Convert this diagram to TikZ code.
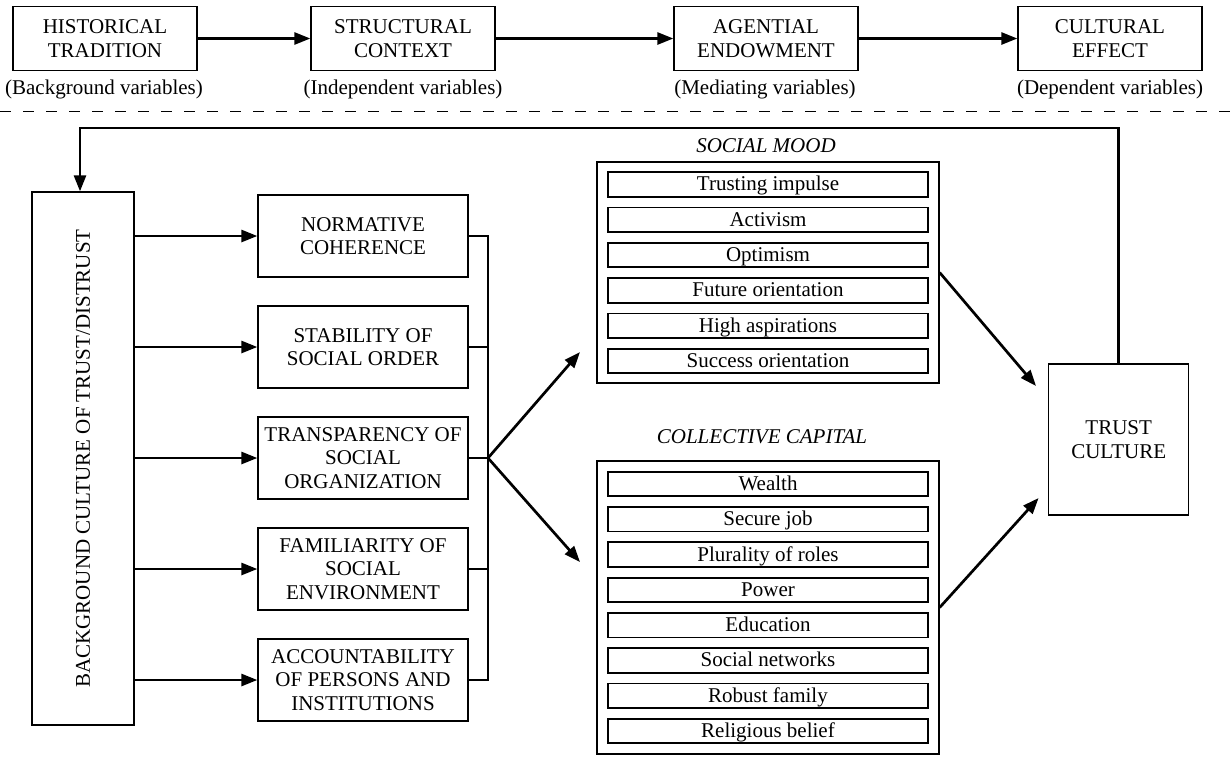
\documentclass[tikz,border=0pt]{standalone}
\usepackage{fontspec}
\setmainfont{Liberation Serif}
\usetikzlibrary{arrows.meta}
\begin{document}
\begin{tikzpicture}[x=0.5pt,y=-0.5pt,
  font=\fontsize{10.5}{11.85}\selectfont,
  box/.style={draw, line width=0.65pt, align=center, inner sep=0pt},
  topbox/.style={box, minimum width=92pt, minimum height=31.75pt},
  midbox/.style={box, minimum width=105pt, minimum height=41pt},
  itembox/.style={box, line width=0.9pt, minimum width=160pt, minimum height=12.25pt,
    text height=7.5pt, text depth=1.1pt},
  groupbox/.style={box, minimum width=171pt},
  grouptitle/.style={font=\fontsize{10.5}{11.85}\selectfont\itshape},
  conn/.style={line width=1.35pt},
  arr/.style={conn, -{Triangle[length=8pt,width=6pt]}},
]
\useasboundingbox (0,0) rectangle (1230,756);

% --- causal chain of variable types ---
\node[topbox] (ht) at (105,38.5) {HISTORICAL\\TRADITION};
\node[topbox] (sc) at (403,38.5) {STRUCTURAL\\CONTEXT};
\node[topbox] (ae) at (766,38.5) {AGENTIAL\\ENDOWMENT};
\node[topbox] (ce) at (1110,38.5) {CULTURAL\\EFFECT};
\node (l1) at (104,89) {(Background variables)};
\node (l2) at (403,89) {(Independent variables)};
\node (l3) at (765,89) {(Mediating variables)};
\node (l4) at (1110,89) {(Dependent variables)};
\draw[arr] (ht) -- (sc);
\draw[arr] (sc) -- (ae);
\draw[arr] (ae) -- (ce);

% separator
\coordinate (dl) at (0,111.7);
\coordinate (dr) at (1230,111.7);
\draw[line width=0.6pt, dash pattern=on 5.5pt off 6pt] (dl) -- (dr);

% --- background culture ---
\node[box, minimum width=51pt, minimum height=266.5pt] (bg) at (83,458.5) {};
\node[rotate=90] (bgt) at (bg.center) {BACKGROUND CULTURE OF TRUST/DISTRUST};

% --- structural context ---
\node[midbox] (m1) at (363,236) {NORMATIVE\\COHERENCE};
\node[midbox] (m2) at (363,347) {STABILITY OF\\SOCIAL ORDER};
\node[midbox] (m3) at (363,458) {TRANSPARENCY OF\\SOCIAL\\ORGANIZATION};
\node[midbox] (m4) at (363,569) {FAMILIARITY OF\\SOCIAL\\ENVIRONMENT};
\node[midbox] (m5) at (363,680) {ACCOUNTABILITY\\OF PERSONS AND\\INSTITUTIONS};
\foreach \m in {m1,m2,m3,m4,m5} {
  \draw[arr] (bg.east |- \m) -- (\m.west);
}

% joining bracket
\coordinate (br) at (488,458);
\foreach \m in {m1,m2,m3,m4,m5} {
  \draw[conn] (\m.east) -| (br);
}
\coordinate (tu) at (580,352);
\coordinate (td) at (580,562);
\draw[arr] (br) -- (tu);
\draw[arr] (br) -- (td);

% --- social mood ---
\node[grouptitle] (smt) at (766,146) {SOCIAL MOOD};
\node[groupbox, minimum height=110.5pt] (sm) at (768,272.5) {};
\foreach \t [count=\i from 0] in {Trusting impulse, Activism, Optimism,
    Future orientation, High aspirations, Success orientation} {
  \node[itembox] (sm\i) at (768,184.5+35.3*\i) {\t};
}

% --- collective capital ---
\node[grouptitle] (cct) at (762,437) {COLLECTIVE CAPITAL};
\node[groupbox, minimum height=146.5pt] (cc) at (768,607.5) {};
\foreach \t [count=\i from 0] in {Wealth, Secure job, Plurality of roles, Power,
    Education, Social networks, Robust family, Religious belief} {
  \node[itembox] (cc\i) at (768,484+35.3*\i) {\t};
}

% --- trust culture ---
\node[box, minimum width=70pt, minimum height=75.5pt] (tc) at (1118.7,439.5) {TRUST\\CULTURE};
\coordinate (ta) at (1036,386);
\coordinate (tb) at (1038.6,498);
\draw[arr] (sm.east) -- (ta);
\draw[arr] (cc.east) -- (tb);

% feedback loop
\coordinate (fb) at (80,128);
\draw[arr] (tc.north) |- (fb) -- (fb |- bg.north);
\end{tikzpicture}
\end{document}
